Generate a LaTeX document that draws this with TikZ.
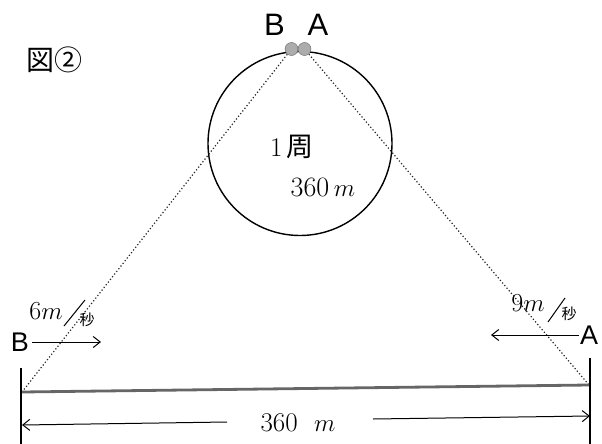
\documentclass[tikz,border=0pt]{standalone}
\usepackage{fontspec}
\newfontfamily\sansf{Liberation Sans}
\newfontfamily\cjk{Noto Sans CJK JP}
\usetikzlibrary{arrows.meta}
\tikzset{
  txt/.style={inner sep=0pt, anchor=center},
  dotmark/.style={circle, fill=gray!65, draw=gray!75!black, line width=0.4pt, minimum size=13pt, inner sep=0pt},
  sight/.style={line width=1.2pt, dash pattern=on 1.2pt off 2.2pt, black!85},
  arr/.style={-{Straight Barb[length=7pt,width=11pt]}, line width=1pt},
  tickline/.style={line width=1.1pt},
  track/.style={draw, circle, line width=1.4pt, minimum size=184pt, inner sep=0pt},
  road/.style={line width=2.8pt, black!60},
}
\begin{document}
\begin{tikzpicture}[x=1pt,y=-1pt]
\useasboundingbox (0,0) rectangle (602,444);
% ring
\node[track] (ring) at (300,143.5) {};
% baseline ends
\coordinate (L) at (22,392);
\coordinate (R) at (589,385);
\coordinate (pB) at (291.5,49);
\coordinate (pA) at (304.5,49);
% sight lines
\draw[sight] (pB) -- (L);
\draw[sight] (pA) -- (R);
% dots
\node[dotmark] (dB) at (pB) {};
\node[dotmark] (dA) at (pA) {};
% top labels
\node[txt, font=\sansf\fontsize{31}{31}\selectfont] (tB) at (274.5,25) {B};
\node[txt, font=\sansf\fontsize{31}{31}\selectfont] (tA) at (318,25) {A};
% title
\node[txt, font=\cjk\fontsize{28}{28}\selectfont] (title) at (55,60) {図②};
% ring labels
\node[txt] (lap) at (292,147) {\fontsize{27}{27}\selectfont 1\,{\cjk 周}};
\node[txt] (lapd) at (323,187) {\fontsize{28}{28}\selectfont 360\,$m$};
% road
\draw[road] (L) -- (R);
\coordinate (vL1) at (21,368);
\coordinate (vL2) at (21,444);
\coordinate (vR1) at (590,358);
\coordinate (vR2) at (590,444);
\draw[tickline] (vL1) -- (vL2);
\draw[tickline] (vR1) -- (vR2);
% dimension
\node[txt] (dim) at (298,423) {\fontsize{27}{27}\selectfont 360\ \ $m$};
\coordinate (dl1) at (227,422);
\coordinate (dl2) at (22,425);
\coordinate (dr1) at (373,419);
\coordinate (dr2) at (590,416);
\draw[arr] (dl1) -- (dl2);
\draw[arr] (dr1) -- (dr2);
% runner B
\node[txt, font=\sansf\fontsize{27}{27}\selectfont] (bB) at (20,342) {B};
\coordinate (bBe) at (101,342);
\draw[arr] (bB.east) ++(3,0) coordinate (bBs) -- (bBe);
\node[txt] (sB) at (46,311) {\fontsize{26}{26}\selectfont 6$m$};
\coordinate (slB1) at (64,326);
\coordinate (slB2) at (85,300);
\draw[line width=1pt] (slB1) -- (slB2);
\node[txt, font=\cjk\fontsize{15}{15}\selectfont] (uB) at (87,320) {秒};
% runner A
\node[txt, font=\sansf\fontsize{27}{27}\selectfont] (bA) at (589,335) {A};
\coordinate (bAe) at (491,335);
\draw[arr] (bA.west) ++(-1,0) coordinate (bAs) -- (bAe);
\node[txt] (sA) at (528,303) {\fontsize{26}{26}\selectfont 9$m$};
\coordinate (slA1) at (548,322);
\coordinate (slA2) at (565,298);
\draw[line width=1pt] (slA1) -- (slA2);
\node[txt, font=\cjk\fontsize{15}{15}\selectfont] (uA) at (569,314) {秒};
\end{tikzpicture}
\end{document}
